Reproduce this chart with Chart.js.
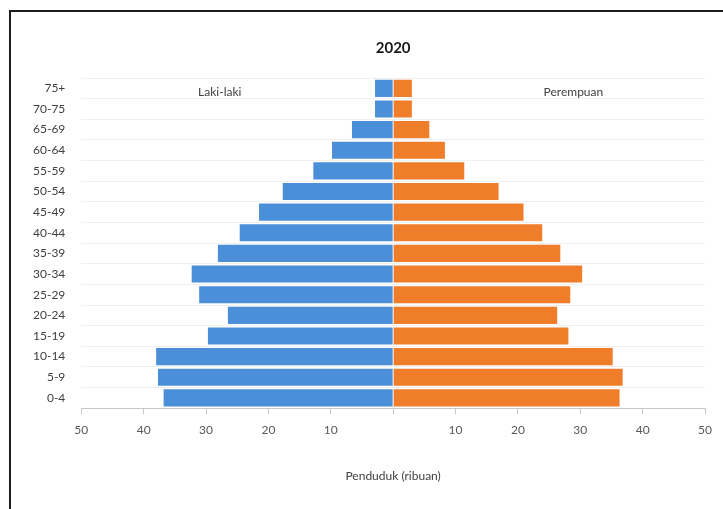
<!DOCTYPE html>
<html>
<head>
<meta charset="UTF-8">
<title>Piramida Penduduk 2020</title>
<script src="https://cdn.jsdelivr.net/npm/chart.js@4.4.1/dist/chart.umd.min.js"></script>
<style>
    body { margin: 0; background: #fff; }
    #wrap { position: absolute; left: 0; top: 0; width: 723px; height: 509px; }
    #frame {
        position: absolute; left: 9px; top: 10px; width: 760px; height: 560px;
        border: 2px solid #1c1c1c; pointer-events: none;
    }
</style>
</head>
<body>
<div id="wrap"><canvas id="pyramid"></canvas></div>
<div id="frame"></div>

<script>
// age groups, top to bottom
const ageGroups = ['75+', '70-75', '65-69', '60-64', '55-59', '50-54', '45-49', '40-44',
    '35-39', '30-34', '25-29', '20-24', '15-19', '10-14', '5-9', '0-4'];

// population in thousands
const male = [2.9, 2.9, 6.6, 9.8, 12.8, 17.7, 21.5, 24.6, 28.1, 32.3, 31.1, 26.5, 29.7, 38.0, 37.7, 36.8];
const female = [3.0, 3.0, 5.8, 8.3, 11.4, 16.9, 20.9, 23.9, 26.8, 30.3, 28.4, 26.3, 28.1, 35.2, 36.8, 36.3];

const xTicks = [-50, -40, -30, -20, -10, 0, 10, 20, 30, 40, 50];

const chartTitle = '2020';
const maleLabel = 'Laki-laki';
const femaleLabel = 'Perempuan';
const axisTitle = 'Penduduk (ribuan)';

const fontName = 'Lato, "Open Sans", sans-serif';

// draws the title and the two side labels
const textPlugin = {
    id: 'texts',
    afterDraw(chart) {
        const ctx = chart.ctx;
        const xs = chart.scales.x, ys = chart.scales.y;
        ctx.save();
        ctx.textAlign = 'center';
        ctx.textBaseline = 'middle';
        ctx.fillStyle = '#1a1a1a';
        ctx.font = 'bold 15px ' + fontName;
        ctx.fillText(chartTitle, xs.getPixelForValue(0), chart.chartArea.top - 30);
        ctx.fillStyle = '#404040';
        ctx.font = '12px ' + fontName;
        const yRow = ys.getPixelForValue(0) + 4;
        ctx.fillText(maleLabel, xs.getPixelForValue(-27.8), yRow);
        ctx.fillText(femaleLabel, xs.getPixelForValue(28.9), yRow);
        ctx.restore();
    }
};

const ctx = document.getElementById('pyramid').getContext('2d');
new Chart(ctx, {
    type: 'bar',
    data: {
        labels: ageGroups,
        datasets: [{
            label: maleLabel,
            data: male.map(v => -v),
            backgroundColor: '#4a8fd8',
            barPercentage: 1,
            categoryPercentage: 0.83
        }, {
            label: femaleLabel,
            data: female,
            backgroundColor: '#f07d2a',
            barPercentage: 1,
            categoryPercentage: 0.83
        }]
    },
    plugins: [textPlugin],
    options: {
        indexAxis: 'y',
        responsive: true,
        maintainAspectRatio: false,
        animation: false,
        layout: { padding: { left: 17, right: 18, top: 78, bottom: 26 } },
        plugins: {
            legend: { display: false },
            tooltip: { enabled: false },
            title: { display: false }
        },
        scales: {
            x: {
                stacked: true,
                min: -50,
                max: 50,
                afterBuildTicks: axis => { axis.ticks = xTicks.map(v => ({ value: v })); },
                ticks: {
                    color: '#595959',
                    font: { family: fontName, size: 12 },
                    padding: 9,
                    callback: v => v === 0 ? '' : Math.abs(v)
                },
                grid: { drawOnChartArea: false, drawTicks: true, tickLength: 6, color: '#c8c8c8' },
                border: { display: true, color: '#c8c8c8' },
                title: {
                    display: true,
                    text: axisTitle,
                    color: '#404040',
                    font: { family: fontName, size: 12 },
                    padding: { top: 22, bottom: 0 }
                }
            },
            y: {
                stacked: true,
                ticks: {
                    color: '#404040',
                    font: { family: fontName, size: 12 },
                    padding: 16
                },
                grid: { color: '#f0f0f0', drawTicks: false },
                border: { display: false }
            }
        }
    }
});
</script>
</body>
</html>
